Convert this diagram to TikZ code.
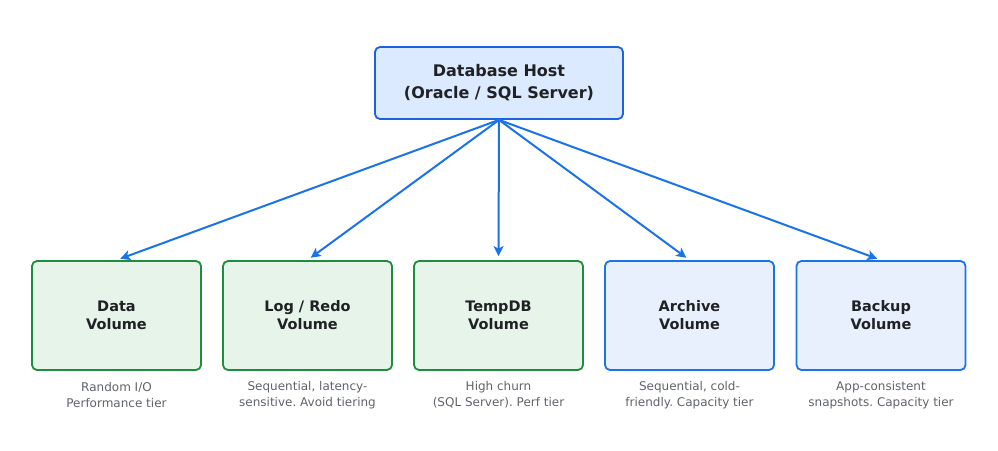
\documentclass[tikz,border=0pt]{standalone}
\usepackage{fontspec}
\setmainfont{DejaVu Sans}
\usetikzlibrary{arrows.meta}
\frenchspacing

\definecolor{hostfill}{HTML}{DBEAFE}
\definecolor{hostline}{HTML}{1A62E0}
\definecolor{perffill}{HTML}{E6F4EA}
\definecolor{perfline}{HTML}{1E8E3E}
\definecolor{capfill}{HTML}{E8F0FE}
\definecolor{capline}{HTML}{1A73E8}
\definecolor{linkcol}{HTML}{1A73E8}
\definecolor{titletext}{HTML}{202124}
\definecolor{notetext}{HTML}{5F6368}

\tikzset{
    hostbox/.style={draw=hostline, fill=hostfill, line width=1.8pt, rounded corners=5pt,
        minimum width=248pt, minimum height=72pt, align=center, text=titletext,
        font=\fontsize{16}{22}\selectfont\bfseries},
    volbox/.style={draw=#1line, fill=#1fill, line width=1.8pt, rounded corners=5pt,
        minimum width=169pt, minimum height=109pt, align=center, text=titletext,
        font=\fontsize{14.5}{18}\selectfont\bfseries},
    note/.style={align=center, text=notetext, font=\fontsize{12}{16}\selectfont},
    link/.style={-{Stealth[length=10pt, width=10pt, inset=2.5pt]}, draw=linkcol, line width=2pt,
        shorten >=4pt}
}

\begin{document}
\begin{tikzpicture}[x=1pt, y=-1pt]
    \useasboundingbox (0, 0) rectangle (998, 450);

    % 主机
    \node[hostbox] (host) at (499, 83) {Database Host\\(Oracle / SQL Server)};

    % 性能层卷
    \node[volbox=perf] (data) at (116.5, 315.5) {Data\\Volume};
    \node[volbox=perf] (log) at (307.5, 315.5) {Log / Redo\\Volume};
    \node[volbox=perf] (temp) at (498.5, 315.5) {TempDB\\Volume};

    % 容量层卷
    \node[volbox=cap] (arch) at (689.5, 315.5) {Archive\\Volume};
    \node[volbox=cap] (back) at (881, 315.5) {Backup\\Volume};

    % 说明
    \node[note] (datanote) at (116.5, 395) {Random I/O\\Performance tier};
    \node[note] (lognote) at (307.5, 395) {Sequential, latency-\\sensitive. Avoid tiering};
    \node[note] (tempnote) at (498.5, 395) {High churn\\(SQL Server). Perf tier};
    \node[note] (archnote) at (689.5, 395) {Sequential, cold-\\friendly. Capacity tier};
    \node[note] (backnote) at (881, 395) {App-consistent\\snapshots. Capacity tier};

    % 连线
    \foreach \v in {data, log, temp, arch, back}
        \draw[link] (host.south) -- (\v.north);
\end{tikzpicture}
\end{document}
